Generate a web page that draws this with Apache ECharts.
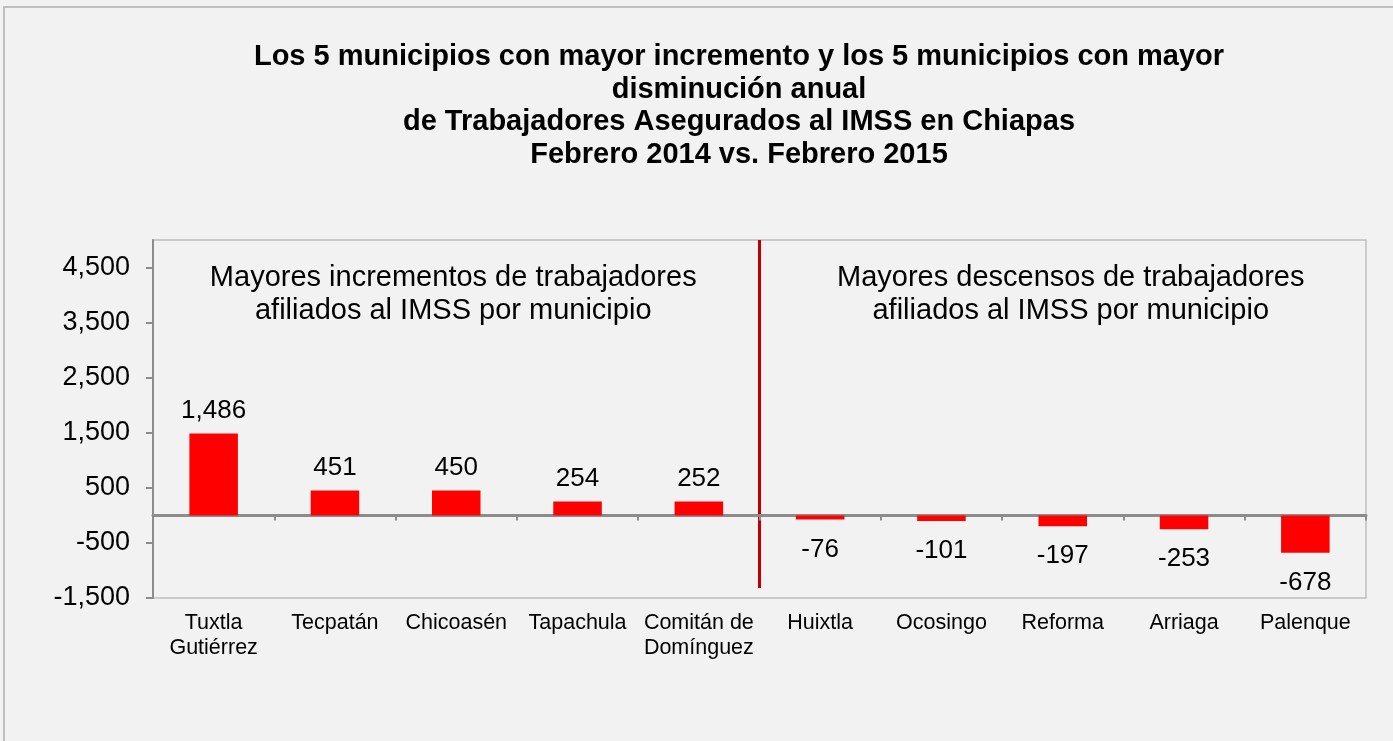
<!DOCTYPE html>
<html>
<head>
<meta charset="utf-8">
<script src="https://cdn.jsdelivr.net/npm/echarts@6/dist/echarts.min.js"></script>
<style>
  html, body { margin: 0; padding: 0; background: #f2f2f2; }
  #main { width: 1393px; height: 741px; }
</style>
</head>
<body>
<div id="main"></div>
<script>
// datos del grafico
const categorias = ['Tuxtla\nGutiérrez', 'Tecpatán', 'Chicoasén', 'Tapachula', 'Comitán de\nDomínguez',
  'Huixtla', 'Ocosingo', 'Reforma', 'Arriaga', 'Palenque'];
const valores = [1486, 451, 450, 254, 252, -76, -101, -197, -253, -678];
const ejeMin = -1500;
const ejeMax = 5000;
const ejeIntervalo = 1000;
const titulo = 'Los 5 municipios con mayor incremento y los 5 municipios con mayor\ndisminución anual\nde Trabajadores Asegurados al IMSS en Chiapas\nFebrero 2014 vs. Febrero 2015';
const notaIzq = 'Mayores incrementos de trabajadores\nafiliados al IMSS por municipio';
const notaDer = 'Mayores descensos de trabajadores\nafiliados al IMSS por municipio';

const fuente = '"Liberation Sans", Arial, sans-serif';
const gris = '#8c8c8c';

function formato(v) {
  return Number(v).toLocaleString('en-US');
}

let myChart = echarts.init(document.getElementById('main'));

let datos = valores.map(v => ({
  value: v,
  label: { position: v < 0 ? 'bottom' : 'top', distance: v < 0 ? 17 : 10 }
}));

let option = {
  backgroundColor: '#f2f2f2',
  textStyle: { fontFamily: fuente },
  title: {
    text: titulo,
    left: 734,
    top: 36,
    textAlign: 'center',
    textStyle: {
      fontFamily: fuente,
      fontSize: 29,
      fontWeight: 'bold',
      color: '#000',
      lineHeight: 32.5
    }
  },
  grid: {
    left: 153,
    right: 27,
    top: 240,
    bottom: 143,
    show: true,
    borderColor: '#bfbfbf',
    borderWidth: 1.5,
    backgroundColor: 'transparent'
  },
  xAxis: [
    {
      type: 'category',
      data: categorias,
      axisLine: { onZero: true, lineStyle: { color: gris, width: 3 } },
      axisTick: { show: true, length: 5, lineStyle: { color: gris, width: 2 } },
      axisLabel: { show: false },
      splitLine: { show: false }
    },
    {
      type: 'category',
      data: categorias,
      position: 'bottom',
      axisLine: { show: false, onZero: false },
      axisTick: { show: false },
      axisLabel: {
        fontFamily: fuente,
        fontSize: 21.5,
        lineHeight: 25,
        color: '#000',
        margin: 13,
        interval: 0
      }
    }
  ],
  yAxis: {
    type: 'value',
    min: ejeMin,
    max: ejeMax,
    interval: ejeIntervalo,
    axisLine: { show: true, lineStyle: { color: gris, width: 2 } },
    axisTick: { show: true, length: 7, lineStyle: { color: gris, width: 2 } },
    splitLine: { show: false },
    axisLabel: {
      fontFamily: fuente,
      fontSize: 27,
      color: '#000',
      margin: 23,
      showMaxLabel: false,
      formatter: formato
    }
  },
  series: [{
    type: 'bar',
    data: datos,
    barWidth: '40%',
    itemStyle: { color: '#ff0000' },
    label: {
      show: true,
      fontFamily: fuente,
      fontSize: 26,
      color: '#000',
      formatter: p => formato(p.value)
    }
  }]
};
myChart.setOption(option);

// linea divisoria y textos de cada mitad
let x4 = myChart.convertToPixel({ xAxisIndex: 0 }, categorias[4]);
let x5 = myChart.convertToPixel({ xAxisIndex: 0 }, categorias[5]);
let xDiv = (x4 + x5) / 2;
let yTop = myChart.convertToPixel({ yAxisIndex: 0 }, ejeMax);
let yBot = myChart.convertToPixel({ yAxisIndex: 0 }, ejeMin) - 10;
let xIzq = myChart.convertToPixel({ xAxisIndex: 0 }, categorias[2]) - 3;
let xDer = myChart.convertToPixel({ xAxisIndex: 0 }, categorias[7]) + 8;

myChart.setOption({
  graphic: [
    {
      type: 'rect',
      silent: true,
      shape: { x: 4, y: 7, width: 1500, height: 900 },
      style: { fill: 'none', stroke: '#bfbfbf', lineWidth: 2 }
    },
    {
      type: 'line',
      silent: true,
      shape: { x1: xDiv, y1: yTop, x2: xDiv, y2: yBot },
      style: { stroke: '#c00000', lineWidth: 3 }
    },
    {
      type: 'text',
      silent: true,
      x: xIzq,
      y: 261,
      style: {
        text: notaIzq,
        font: '29px ' + fuente,
        fill: '#000',
        align: 'center',
        verticalAlign: 'top',
        lineHeight: 33
      }
    },
    {
      type: 'text',
      silent: true,
      x: xDer,
      y: 261,
      style: {
        text: notaDer,
        font: '29px ' + fuente,
        fill: '#000',
        align: 'center',
        verticalAlign: 'top',
        lineHeight: 33
      }
    }
  ]
});
</script>
</body>
</html>
